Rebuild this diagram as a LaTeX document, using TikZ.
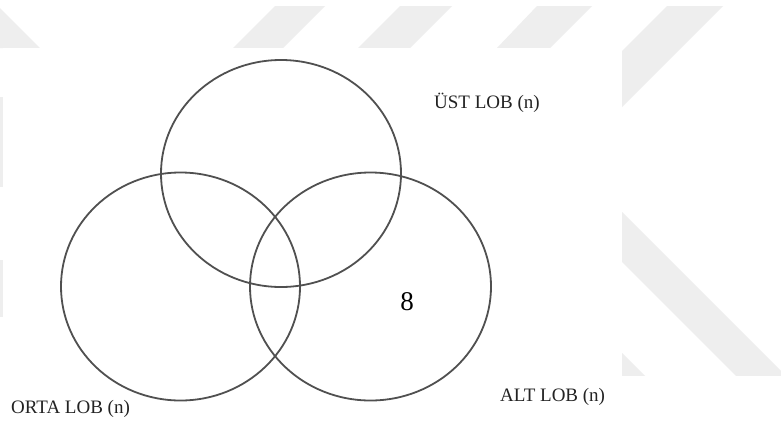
\documentclass[tikz,border=0pt]{standalone}
\usepackage{fontspec}
\setmainfont{Liberation Serif}
\usetikzlibrary{shapes.geometric}
\definecolor{wm}{RGB}{238,238,238}
\definecolor{ring}{RGB}{80,80,80}
\definecolor{ink}{RGB}{35,35,35}
\tikzset{
  setring/.style={ellipse, draw=ring, line width=1.8pt, inner sep=0pt},
  lobe/.style={anchor=base west, inner sep=0pt, text=ink, font=\fontsize{19}{21}\selectfont},
  wmark/.style={fill=wm, draw=none}
}
\begin{document}
\begin{tikzpicture}[x=1pt,y=-1pt]
\useasboundingbox (0,0) rectangle (781,426);
\fill[white] (0,0) rectangle (781,426);
% watermark stripes
\begin{scope}
\clip (0,6) rectangle (781,375);
\fill[wmark] (0,8) -- (40,48) -- (0,48) -- cycle;
\fill[wmark] (275,6) -- (325,6) -- (283,48) -- (233,48) -- cycle;
\fill[wmark] (400,6) -- (452,6) -- (410,48) -- (358,48) -- cycle;
\fill[wmark] (537,6) -- (592,6) -- (550,48) -- (497,48) -- cycle;
\fill[wmark] (667,6) -- (723,6) -- (622,107) -- (622,51) -- cycle;
\fill[wmark] (622,212) -- (790,380) -- (740,380) -- (622,262) -- cycle;
\fill[wmark] (622,353) -- (648,379) -- (622,379) -- cycle;
\fill[wmark] (0,97) rectangle (3,187);
\fill[wmark] (0,260) rectangle (3,317);
\end{scope}
\fill[white] (3,48) rectangle (622,375);
% sets
\node[setring, minimum width=240, minimum height=227] (ust) at (281,173.5) {};
\node[setring, minimum width=239, minimum height=228] (orta) at (180.5,286.5) {};
\node[setring, minimum width=241, minimum height=228] (alt) at (370.5,286.5) {};
% labels
\node[lobe] (ustl) at (434,108) {ÜST LOB (n)};
\node[lobe] (ortal) at (11,413) {ORTA LOB (n)};
\node[lobe] (altl) at (500,401) {ALT LOB (n)};
\node[inner sep=0pt, anchor=base, text=black, font=\fontsize{27}{30}\selectfont] (eight) at (407,310) {8};
\end{tikzpicture}
\end{document}
